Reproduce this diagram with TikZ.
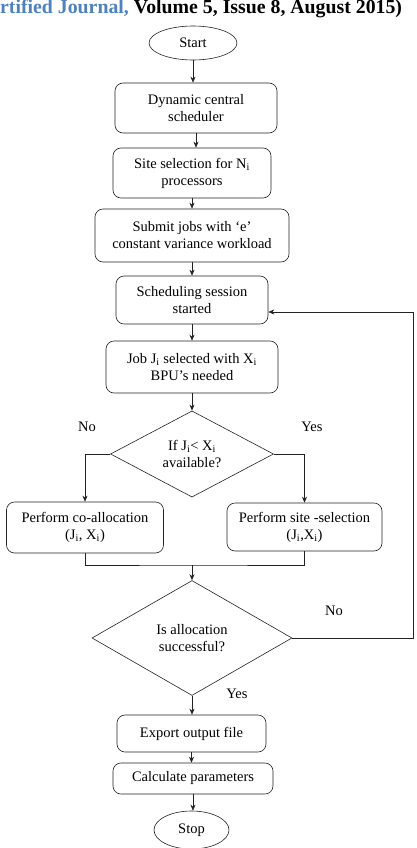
\documentclass[tikz,border=0pt]{standalone}
\usepackage{fontspec}
\setmainfont{Liberation Serif}
\usetikzlibrary{shapes.geometric,arrows.meta}
\definecolor{hdrblue}{HTML}{4F81BD}
\definecolor{ln}{HTML}{222222}
\begin{document}
\begin{tikzpicture}[x=1pt,y=-1pt,
  every node/.style={font=\fontsize{14.5}{17}\selectfont, text=black},
  proc/.style={draw=ln, line width=0.6pt, rounded corners=8pt, align=center, inner sep=0pt},
  term/.style={draw=ln, line width=0.6pt, ellipse, inner sep=0pt},
  dec/.style={draw=ln, line width=0.6pt, diamond, align=center, inner sep=0pt},
  conn/.style={draw=ln, line width=0.6pt},
  arr/.style={conn, -{Stealth[length=6pt,width=5pt]}},
  lbl/.style={inner sep=0pt}
]
\useasboundingbox (0,0) rectangle (416,848);
\node[anchor=base west, inner sep=0pt, font=\fontsize{19.8}{24}\bfseries] (hdr) at (0,14)
  {\textcolor{hdrblue}{rtified Journal,} Volume 5, Issue 8, August 2015)};

\node[term, minimum width=88pt, minimum height=34pt] (start) at (193,43) {Start};
\node[proc, minimum width=162pt, minimum height=50pt] (b1) at (196,108) {Dynamic central\\scheduler};
\node[proc, minimum width=158pt, minimum height=50pt] (b2) at (192,173) {Site selection for N\textsubscript{i}\\processors};
\node[proc, minimum width=194pt, minimum height=53pt] (b3) at (192,235.5) {Submit jobs with ‘e’\\constant variance workload};
\node[proc, minimum width=152pt, minimum height=48pt] (b4) at (192,300) {Scheduling session\\started};
\node[proc, minimum width=172pt, minimum height=52pt] (b5) at (192,367) {Job J\textsubscript{i} selected with X\textsubscript{i}\\BPU’s needed};
\node[dec, minimum width=163pt, minimum height=84pt] (d1) at (192,454) {If J\textsubscript{i}< X\textsubscript{i}\\available?};
\node[proc, minimum width=157pt, minimum height=51pt] (b6) at (85,527.5) {Perform co-allocation\\(J\textsubscript{i}, X\textsubscript{i})};
\node[proc, minimum width=155pt, minimum height=48pt] (b7) at (304.5,527) {Perform site -selection\\(J\textsubscript{i},X\textsubscript{i})};
\node[dec, minimum width=200pt, minimum height=115pt] (d2) at (192,638) {Is allocation\\successful?};
\node[proc, minimum width=149pt, minimum height=37pt] (b8) at (191.5,733.5) {Export output file};
\node[proc, minimum width=160pt, minimum height=31pt] (b9) at (193,778.5) {Calculate parameters};
\node[term, minimum width=75pt, minimum height=38pt] (stop) at (191.5,830) {Stop};

\node[lbl] (no1) at (87,427) {No};
\node[lbl] (yes1) at (312,427) {Yes};
\node[lbl] (no2) at (334,611) {No};
\node[lbl] (yes2) at (237,694) {Yes};

\draw[arr] (start.south) -- (start.south |- b1.north);
\draw[arr] (b1.south) -- (b1.south |- b2.north);
\draw[arr] (b2.south) -- (b2.south |- b3.north);
\draw[arr] (b3.south) -- (b3.south |- b4.north);
\draw[arr] (b4.south) -- (b4.south |- b5.north);
\draw[arr] (b5.south) -- (d1.north);
\draw[arr] (d1.west) -| (b6.north);
\draw[arr] (d1.east) -| (b7.north);
\coordinate (join) at (192,565);
\draw[conn] (b6.south) |- (join) -| (b7.south);
\draw[arr] (join) -- (d2.north);
\coordinate (fbA) at (413,638);
\coordinate (fbB) at (413,312);
\draw[arr] (d2.east) -- (fbA) -- (fbB) -- (fbB -| b4.east);
\draw[arr] (d2.south) -- (d2.south |- b8.north);
\draw[arr] (b8.south) -- (b8.south |- b9.north);
\draw[arr] (b9.south) -- (b9.south |- stop.north);
\end{tikzpicture}
\end{document}
